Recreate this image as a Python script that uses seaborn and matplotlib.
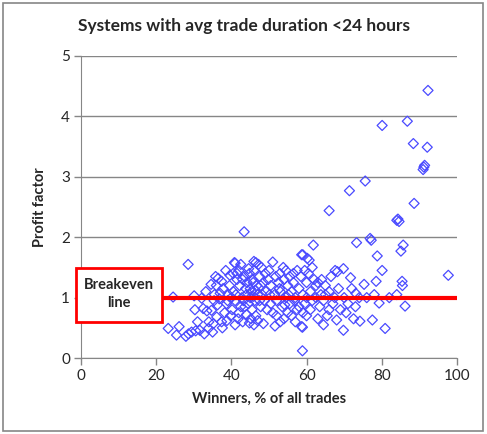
import numpy as np
import pandas as pd
import matplotlib
matplotlib.use('Agg')
import matplotlib.pyplot as plt
from matplotlib.patches import Rectangle
import seaborn as sns

# winners (% of all trades) and profit factor
winners = [
    24.5, 28.5, 23.2, 26.1, 25.4, 27.9, 29.4, 31.6, 33.9, 35.2, 35.0, 30.1, 32.1, 30.3, 32.5,
    28.6, 30.5, 32.8, 34.0, 33.2, 34.6, 35.4, 33.5, 31.0, 36.1, 37.4, 36.5, 37.4, 39.6, 41.0,
    37.0, 38.7, 36.3, 34.7, 36.0, 35.8, 37.8, 38.2, 38.8, 39.2, 37.6, 36.8, 35.5,
    40.8, 43.4, 46.5, 41.5, 42.2, 40.5, 41.0, 42.5, 40.2, 39.8, 41.8, 43.0, 42.0, 43.5, 44.2,
    44.8, 45.5, 46.0, 45.0, 44.0, 43.2, 44.5, 45.5, 46.2, 47.0, 46.8, 47.5, 48.0, 48.5, 49.2,
    48.8, 47.8, 46.5, 45.2, 44.0, 43.8, 42.8, 41.2, 40.0, 39.5, 40.5, 45.8, 46.0, 47.2, 48.5,
    49.5, 49.8, 50.0, 44.6, 43.0, 42.0, 41.0, 39.0, 38.5, 45.0, 45.3, 46.3, 47.5, 48.2, 43.6,
    44.8, 46.0, 47.0, 49.0, 42.5, 41.5, 47.8, 45.8,
    51.0, 52.9, 56.5, 54.5, 58.7, 60.2, 59.0, 60.7, 51.6, 58.7, 58.9, 58.9, 50.5, 51.5, 52.0,
    52.5, 53.0, 53.5, 54.0, 54.5, 55.0, 55.5, 56.0, 56.5, 57.0, 57.5, 58.0, 58.5, 59.0, 59.5,
    60.0, 60.5, 61.0, 61.5, 62.0, 51.0, 52.0, 53.0, 54.0, 55.0, 56.0, 57.0, 58.0, 59.0, 60.0,
    61.0, 50.5, 53.8, 55.5, 57.5, 59.5, 61.5, 62.5, 55.2, 56.8, 54.2, 52.8, 51.8, 50.2, 60.0,
    61.8, 62.5, 63.0, 63.5, 64.0, 64.5, 65.0, 65.5, 66.0, 66.5, 67.0, 67.6, 68.2, 69.8, 71.7,
    73.1, 68.0, 69.8, 74.2, 75.3, 66.0, 71.4, 73.3, 75.6, 63.0, 64.5, 66.0, 67.5, 68.5, 69.0,
    70.0, 71.0, 72.0, 73.0, 74.0, 70.5, 72.5, 65.0, 63.8,
    76.9, 77.2, 78.8, 78.5, 79.3, 77.5, 80.9, 80.1, 80.1, 84.0, 84.3, 84.6, 85.7, 85.1, 85.4,
    85.5, 86.2, 86.8, 88.4, 88.6, 91.2, 91.0, 91.4, 92.1, 92.3, 97.7, 76.0, 78.0, 82.0, 84.0,
]
profit_factor = [
    1.01, 1.55, 0.49, 0.52, 0.38, 0.36, 0.43, 0.46, 0.49, 0.57, 0.43, 1.03, 0.99, 0.80, 0.82,
    0.40, 0.45, 0.40, 0.60, 1.10, 1.22, 0.95, 0.78, 0.60, 0.68, 0.60, 1.32, 1.27, 1.37, 1.57,
    1.07, 0.90, 0.88, 0.79, 1.20, 1.35, 1.15, 0.75, 0.62, 1.05, 0.50, 0.98, 1.05,
    1.58, 2.09, 1.58, 1.30, 1.20, 1.10, 0.95, 0.85, 0.80, 0.70, 0.65, 0.60, 1.45, 1.35, 1.25,
    1.40, 1.30, 1.45, 1.15, 1.05, 0.95, 0.90, 0.80, 0.95, 1.05, 1.20, 1.35, 1.50, 1.25, 1.10,
    0.95, 0.85, 0.70, 0.65, 0.72, 1.15, 1.00, 1.05, 1.00, 1.20, 1.40, 1.02, 1.60, 1.55, 0.57,
    0.80, 1.30, 1.45, 1.48, 1.30, 0.75, 0.55, 0.95, 1.45, 1.00, 1.10, 1.12, 0.95, 1.05, 0.85,
    0.58, 0.55, 0.62, 1.40, 1.55, 1.40, 1.20, 1.25,
    1.59, 1.40, 1.40, 1.45, 1.71, 1.65, 1.71, 1.62, 0.53, 0.52, 0.12, 0.51, 1.20, 1.05, 0.95,
    1.25, 1.10, 0.85, 1.30, 1.00, 1.20, 0.90, 1.10, 1.25, 1.00, 0.80, 1.15, 1.35, 1.05, 0.90,
    1.25, 1.40, 1.10, 0.95, 1.30, 0.75, 0.70, 0.60, 0.65, 0.75, 0.70, 0.60, 0.85, 0.75, 0.70,
    0.80, 0.90, 1.50, 1.35, 1.45, 1.45, 1.50, 1.20, 1.05, 0.95, 0.88, 1.15, 1.35, 1.05, 1.00,
    1.87, 1.00, 1.25, 0.85, 1.30, 0.95, 1.20, 0.70, 1.10, 1.35, 0.90, 1.45, 1.43, 1.48, 1.33,
    1.07, 0.63, 0.46, 0.61, 1.22, 2.44, 2.77, 1.91, 2.93, 0.65, 0.55, 0.80, 1.00, 1.15, 0.80,
    1.00, 0.90, 1.15, 0.85, 1.00, 0.75, 0.65, 1.05, 1.05,
    1.98, 1.95, 1.69, 1.27, 0.91, 0.63, 0.49, 1.45, 3.85, 2.28, 2.30, 2.26, 1.87, 1.77, 1.27,
    1.20, 0.86, 3.92, 3.55, 2.56, 3.16, 3.12, 3.19, 3.49, 4.43, 1.37, 1.00, 1.05, 1.00, 1.05,
]
breakeven = 1.0
x_ticks = [0, 20, 40, 60, 80, 100]
y_ticks = [0, 1, 2, 3, 4, 5]

df = pd.DataFrame({'Winners': winners, 'Profit factor': profit_factor})

sns.set_style('white')
plt.rcParams['font.family'] = ['Lato', 'DejaVu Sans']

fig = plt.figure(figsize=(4.87, 4.34), dpi=100)
ax = fig.add_axes([0.1663, 0.175, 0.772, 0.696])

sns.scatterplot(data=df, x='Winners', y='Profit factor', ax=ax, marker='D', s=26,
                facecolor='none', edgecolor='#4a4aff', linewidth=0.9, zorder=3)

# breakeven line on top of the markers
ax.axhline(breakeven, color='#ff0000', lw=3, zorder=4)

ax.set_xlim(0, 100)
ax.set_ylim(0, 5)
ax.set_xticks(x_ticks)
ax.set_yticks(y_ticks)
ax.grid(axis='y', color='#868686', lw=1)
ax.grid(axis='x', visible=False)
for s in ['top', 'right']:
    ax.spines[s].set_visible(False)
for s in ['left', 'bottom']:
    ax.spines[s].set_color('#868686')
ax.tick_params(axis='both', which='both', direction='out', length=5, width=1,
               color='#868686', labelsize=11, bottom=True, left=True, pad=3)

ax.set_xlabel('Winners, % of all trades', fontsize=10.5, fontweight='bold', labelpad=6)
ax.set_ylabel('Profit factor', fontsize=10.5, fontweight='bold', labelpad=10)
fig.text(0.5, 0.94, 'Systems with avg trade duration <24 hours', ha='center', va='center',
         fontsize=12.5, fontweight='bold')

# breakeven label box
px = fig.transFigure
box = Rectangle((76 / 487, 1 - 322 / 434), 86 / 487, 54 / 434, transform=px,
                facecolor='white', edgecolor='#ff0000', lw=2, zorder=10)
fig.add_artist(box)
fig.text(119 / 487, 1 - 294 / 434, 'Breakeven\nline', ha='center', va='center',
         fontsize=10.5, fontweight='bold', linespacing=1.35, zorder=11)

# outer chart frame
frame = Rectangle((3 / 487, 3 / 434), 480 / 487, 428 / 434, transform=px,
                  facecolor='none', edgecolor='#868686', lw=1.2)
fig.add_artist(frame)

fig.savefig('out.png', dpi=100)
